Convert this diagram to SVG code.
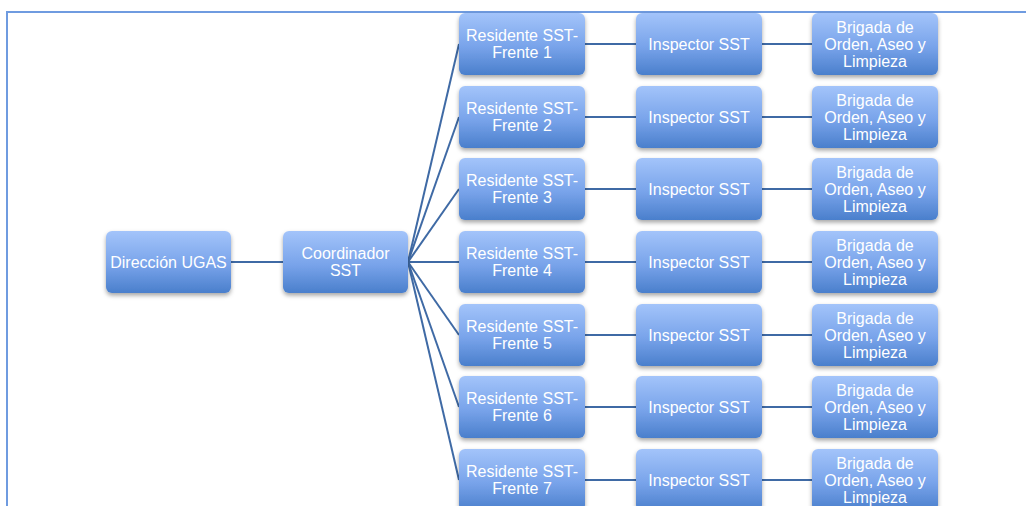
<svg xmlns="http://www.w3.org/2000/svg" width="1026" height="506" viewBox="0 0 1026 506">
<defs>
<linearGradient id="g" x1="0" y1="0" x2="0" y2="1">
<stop offset="0" stop-color="#a3c4fa"/>
<stop offset="0.55" stop-color="#78a3ea"/>
<stop offset="1" stop-color="#4a7fcc"/>
</linearGradient>
<filter id="sh" x="-10%" y="-10%" width="120%" height="130%">
<feDropShadow dx="0" dy="2.5" stdDeviation="2" flood-color="#000" flood-opacity="0.35"/>
</filter>
</defs>
<style>
.n{fill:url(#g);filter:url(#sh)}
.t{font-family:"Liberation Sans",Arial,sans-serif;font-size:16px;fill:#fff;text-anchor:middle}
.c{stroke:#3f6aa5;stroke-width:2;fill:none}
</style>
<rect x="7" y="12" width="1040" height="520" fill="#fff" stroke="#6f9be0" stroke-width="2"/>
<g id="connectors" class="c">
<line x1="231" y1="262" x2="283" y2="262"/>
<line x1="408" y1="262" x2="459" y2="44"/>
<line x1="408" y1="262" x2="459" y2="117"/>
<line x1="408" y1="262" x2="459" y2="189"/>
<line x1="408" y1="262" x2="459" y2="262"/>
<line x1="408" y1="262" x2="459" y2="335"/>
<line x1="408" y1="262" x2="459" y2="407"/>
<line x1="408" y1="262" x2="459" y2="480"/>
<line x1="585" y1="44" x2="636" y2="44"/><line x1="762" y1="44" x2="812" y2="44"/>
<line x1="585" y1="117" x2="636" y2="117"/><line x1="762" y1="117" x2="812" y2="117"/>
<line x1="585" y1="189" x2="636" y2="189"/><line x1="762" y1="189" x2="812" y2="189"/>
<line x1="585" y1="262" x2="636" y2="262"/><line x1="762" y1="262" x2="812" y2="262"/>
<line x1="585" y1="335" x2="636" y2="335"/><line x1="762" y1="335" x2="812" y2="335"/>
<line x1="585" y1="407" x2="636" y2="407"/><line x1="762" y1="407" x2="812" y2="407"/>
<line x1="585" y1="480" x2="636" y2="480"/><line x1="762" y1="480" x2="812" y2="480"/>
</g>
<g id="direccion"><rect class="n" x="106" y="231" width="125" height="62" rx="6"/><text class="t" x="168.5" y="267.5">Dirección UGAS</text></g>
<g id="coordinador"><rect class="n" x="283" y="231" width="125" height="62" rx="6"/><text class="t" x="345.5" y="259">Coordinador</text><text class="t" x="345.5" y="276">SST</text></g>

<g id="res1"><rect class="n" x="459" y="13" width="126" height="62" rx="6"/><text class="t" x="522" y="41">Residente SST-</text><text class="t" x="522" y="58">Frente 1</text></g>
<g id="ins1"><rect class="n" x="636" y="13" width="126" height="62" rx="6"/><text class="t" x="699" y="49.5">Inspector SST</text></g>
<g id="bri1"><rect class="n" x="812" y="13" width="126" height="62" rx="6"/><text class="t" x="875" y="32.5">Brigada de</text><text class="t" x="875" y="49.5">Orden, Aseo y</text><text class="t" x="875" y="66.5">Limpieza</text></g>

<g id="res2"><rect class="n" x="459" y="86" width="126" height="62" rx="6"/><text class="t" x="522" y="114">Residente SST-</text><text class="t" x="522" y="131">Frente 2</text></g>
<g id="ins2"><rect class="n" x="636" y="86" width="126" height="62" rx="6"/><text class="t" x="699" y="122.5">Inspector SST</text></g>
<g id="bri2"><rect class="n" x="812" y="86" width="126" height="62" rx="6"/><text class="t" x="875" y="105.5">Brigada de</text><text class="t" x="875" y="122.5">Orden, Aseo y</text><text class="t" x="875" y="139.5">Limpieza</text></g>

<g id="res3"><rect class="n" x="459" y="158" width="126" height="62" rx="6"/><text class="t" x="522" y="186">Residente SST-</text><text class="t" x="522" y="203">Frente 3</text></g>
<g id="ins3"><rect class="n" x="636" y="158" width="126" height="62" rx="6"/><text class="t" x="699" y="194.5">Inspector SST</text></g>
<g id="bri3"><rect class="n" x="812" y="158" width="126" height="62" rx="6"/><text class="t" x="875" y="177.5">Brigada de</text><text class="t" x="875" y="194.5">Orden, Aseo y</text><text class="t" x="875" y="211.5">Limpieza</text></g>

<g id="res4"><rect class="n" x="459" y="231" width="126" height="62" rx="6"/><text class="t" x="522" y="259">Residente SST-</text><text class="t" x="522" y="276">Frente 4</text></g>
<g id="ins4"><rect class="n" x="636" y="231" width="126" height="62" rx="6"/><text class="t" x="699" y="267.5">Inspector SST</text></g>
<g id="bri4"><rect class="n" x="812" y="231" width="126" height="62" rx="6"/><text class="t" x="875" y="250.5">Brigada de</text><text class="t" x="875" y="267.5">Orden, Aseo y</text><text class="t" x="875" y="284.5">Limpieza</text></g>

<g id="res5"><rect class="n" x="459" y="304" width="126" height="62" rx="6"/><text class="t" x="522" y="332">Residente SST-</text><text class="t" x="522" y="349">Frente 5</text></g>
<g id="ins5"><rect class="n" x="636" y="304" width="126" height="62" rx="6"/><text class="t" x="699" y="340.5">Inspector SST</text></g>
<g id="bri5"><rect class="n" x="812" y="304" width="126" height="62" rx="6"/><text class="t" x="875" y="323.5">Brigada de</text><text class="t" x="875" y="340.5">Orden, Aseo y</text><text class="t" x="875" y="357.5">Limpieza</text></g>

<g id="res6"><rect class="n" x="459" y="376" width="126" height="62" rx="6"/><text class="t" x="522" y="404">Residente SST-</text><text class="t" x="522" y="421">Frente 6</text></g>
<g id="ins6"><rect class="n" x="636" y="376" width="126" height="62" rx="6"/><text class="t" x="699" y="412.5">Inspector SST</text></g>
<g id="bri6"><rect class="n" x="812" y="376" width="126" height="62" rx="6"/><text class="t" x="875" y="395.5">Brigada de</text><text class="t" x="875" y="412.5">Orden, Aseo y</text><text class="t" x="875" y="429.5">Limpieza</text></g>

<g id="res7"><rect class="n" x="459" y="449" width="126" height="62" rx="6"/><text class="t" x="522" y="477">Residente SST-</text><text class="t" x="522" y="494">Frente 7</text></g>
<g id="ins7"><rect class="n" x="636" y="449" width="126" height="62" rx="6"/><text class="t" x="699" y="485.5">Inspector SST</text></g>
<g id="bri7"><rect class="n" x="812" y="449" width="126" height="62" rx="6"/><text class="t" x="875" y="468.5">Brigada de</text><text class="t" x="875" y="485.5">Orden, Aseo y</text><text class="t" x="875" y="502.5">Limpieza</text></g>
</svg>
